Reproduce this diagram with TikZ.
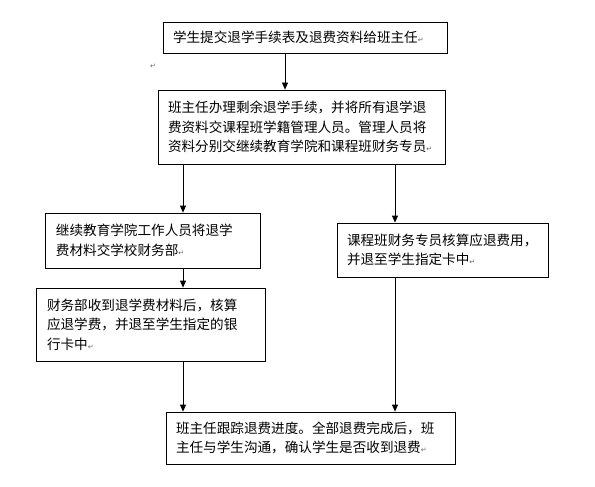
\documentclass[tikz,border=0pt]{standalone}
\usepackage{fontspec}
\setmainfont{Noto Sans CJK SC}
\newfontfamily\symf{DejaVu Sans}
\usetikzlibrary{arrows.meta}
\newcommand{\pmark}{{\symf\fontsize{7pt}{7pt}\selectfont\textcolor{black!60}{↵}}}
\tikzset{
  box/.style={draw=black, line width=0.8pt, align=left, inner sep=0pt,
    font=\fontsize{13.6pt}{19.5pt}\selectfont, anchor=center},
  arr/.style={-{Triangle[length=7pt,width=6pt]}, line width=0.8pt}
}
\begin{document}
\begin{tikzpicture}[x=1pt,y=-1pt]
\useasboundingbox (0,0) rectangle (595,487);
\fill[white] (0,0) rectangle (595,487);
\node[box, minimum width=284pt, minimum height=31pt, text width=264pt] (b1) at (305,37.5)
  {学生提交退学手续表及退费资料给班主任\pmark};
\node[box, minimum width=287pt, minimum height=74pt, text width=267pt] (b2) at (301.5,127)
  {班主任办理剩余退学手续，并将所有退学退\\费资料交课程班学籍管理人员。管理人员将\\资料分别交继续教育学院和课程班财务专员\pmark};
\node[box, minimum width=215pt, minimum height=55pt, text width=193pt] (b3) at (152.5,240.5)
  {继续教育学院工作人员将退学\\费材料交学校财务部\pmark};
\node[box, minimum width=211pt, minimum height=54pt, text width=191pt] (b4) at (442.5,250)
  {课程班财务专员核算应退费用，\\并退至学生指定卡中\pmark};
\node[box, minimum width=229pt, minimum height=73pt, text width=207pt] (b5) at (150.5,324.5)
  {财务部收到退学费材料后，核算\\应退学费，并退至学生指定的银\\行卡中\pmark};
\node[box, minimum width=289pt, minimum height=52pt, text width=269pt] (b6) at (310.5,438)
  {班主任跟踪退费进度。全部退费完成后，班\\主任与学生沟通，确认学生是否收到退费\pmark};
\node[inner sep=0pt] (pm) at (153,66) {\pmark};
\coordinate (cx) at (285,0);
\coordinate (lx) at (183,0);
\coordinate (rx) at (395,0);
\draw[arr] (b1.south -| cx) -- (b2.north -| cx);
\draw[arr] (b2.south -| lx) -- (b3.north -| lx);
\draw[arr] (b2.south -| rx) -- (b4.north -| rx);
\draw[arr] (b3.south -| lx) -- (b5.north -| lx);
\draw[arr] (b5.south -| lx) -- (b6.north -| lx);
\draw[arr] (b4.south -| rx) -- (b6.north -| rx);
\end{tikzpicture}
\end{document}
